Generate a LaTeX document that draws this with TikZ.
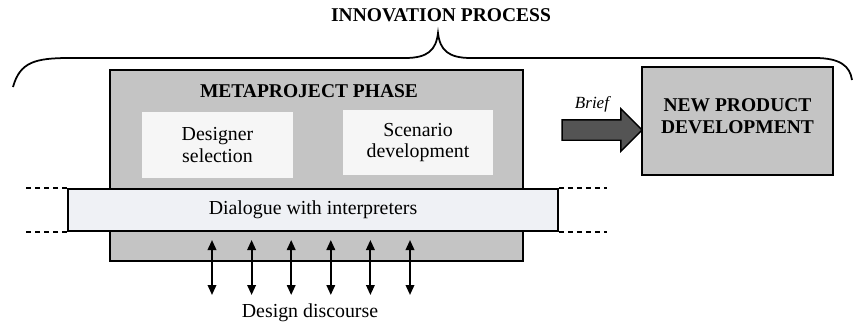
\documentclass[tikz,border=0pt]{standalone}
\usepackage{fontspec}
\setmainfont{Liberation Serif}
\usetikzlibrary{shapes.arrows,arrows.meta}
\definecolor{boxgray}{gray}{0.77}
\definecolor{paper}{gray}{0.965}
\definecolor{band}{RGB}{239,241,245}
\definecolor{briefgray}{gray}{0.33}

\begin{document}
\begin{tikzpicture}[x=0.02cm,y=-0.02cm,
    phase/.style={draw,line width=1pt,fill=boxgray,inner sep=0pt},
    task/.style={fill=paper,inner sep=0pt,align=center},
    lbl/.style={font=\fontsize{11.3}{12}\selectfont,align=center},
    hd/.style={font=\fontsize{11.1}{12}\selectfont\bfseries,align=center},
    dashline/.style={line width=0.9pt,dash pattern=on 0.1cm off 0.08cm},
    twoway/.style={line width=1.1pt,{Triangle[length=0.2cm,width=0.17cm]}-{Triangle[length=0.2cm,width=0.17cm]}}]
    \useasboundingbox (0,0) rectangle (853,325);
    \node[hd] (title) at (441,15) {INNOVATION PROCESS};
    \draw[line width=1pt] (13,87) .. controls (20,62) and (35,58) .. (70,58) -- (405,58) .. controls (428,58) and (436,50) .. (438,33) .. controls (440,50) and (448,58) .. (471,58) -- (815,58) .. controls (840,58) and (850,66) .. (852,80);
    
    \node[phase,minimum width=8.26cm,minimum height=3.82cm] (meta) at (316.5,165.5) {};
    \node[hd] (metatitle) at (309,91) {METAPROJECT PHASE};
    \node[task,lbl,minimum width=3.02cm,minimum height=1.32cm] (designer) at (217.5,145) {Designer\\selection};
    \node[task,lbl,minimum width=3cm,minimum height=1.3cm] (scenario) at (418,142.5) {Scenario\\development};
    
    \node[draw,line width=1pt,fill=band,lbl,inner sep=0pt,minimum width=9.8cm,minimum height=0.84cm] (dialogue) at (313,210) {Dialogue with interpreters};
    \coordinate (dl) at (23,0);
    \coordinate (dr) at (607,0);
    \draw[dashline] (dialogue.north west) -- (dialogue.north west -| dl);
    \draw[dashline] (dialogue.south west) -- (dialogue.south west -| dl);
    \draw[dashline] (dialogue.north east) -- (dialogue.north east -| dr);
    \draw[dashline] (dialogue.south east) -- (dialogue.south east -| dr);
    
    \foreach \i in {0,...,5} {
        \coordinate (up\i) at (212+39.6*\i,240);
        \coordinate (down\i) at (212+39.6*\i,295);
        \draw[twoway] (up\i) -- (down\i);
    }
    \node[lbl] (discourse) at (310,313) {Design discourse};
    
    \node[single arrow,draw,line width=0.8pt,fill=briefgray,inner xsep=0pt,inner ysep=0.19cm,single arrow head extend=0.22cm,minimum height=1.6cm] (brief) at (597,130) {};
    \node[font=\fontsize{9.7}{11}\selectfont\itshape] (brieflbl) at (592,104) {Brief};
    \node[phase,hd,text depth=0.2cm,minimum width=3.82cm,minimum height=2.16cm] (npd) at (737.5,121) {NEW PRODUCT\\DEVELOPMENT};
\end{tikzpicture}
\end{document}
